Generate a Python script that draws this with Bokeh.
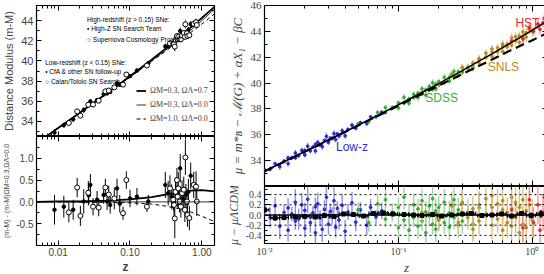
import numpy as np
from bokeh.plotting import figure
from bokeh.layouts import row, column
from bokeh.models import (Range1d, LogAxis, LinearAxis, FixedTicker, Label, Legend,
                          LegendItem, Span, PrintfTickFormatter, CustomJSTickFormatter)
from bokeh.embed import file_html
from bokeh.resources import INLINE

SANS = "Liberation Sans"
SERIF = "Liberation Serif"

# ======================= LEFT PANEL DATA =======================
# filled markers: CfA & other follow-up (low z) + High-Z SN Search Team (high z)
fill_z = [0.0089, 0.012, 0.0162, 0.0227, 0.0267, 0.0281, 0.0348, 0.043, 0.048, 0.053, 0.066,
          0.072, 0.10, 0.125, 0.18, 0.31, 0.34, 0.38, 0.50, 0.55, 0.60, 0.65, 0.70]
fill_mu = [32.89, 33.62, 34.20, 35.13, 35.63, 35.98, 36.11, 36.69, 36.78, 36.92, 37.79,
           37.63, 38.49, 39.04, 39.77, 41.44, 41.49, 41.69, 42.97, 42.51, 42.82, 43.08, 43.65]
fill_res = [-0.18, -0.11, -0.18, 0.01, 0.15, 0.39, 0.05, 0.16, 0.01, -0.07, 0.31,
            -0.04, 0.08, 0.12, 0.01, 0.39, 0.20, 0.12, 0.77, 0.08, 0.16, 0.23, 0.60]
fill_err = [0.34, 0.25, 0.23, 0.28, 0.23, 0.25, 0.20, 0.20, 0.20, 0.20, 0.22,
            0.20, 0.20, 0.20, 0.15, 0.30, 0.28, 0.28, 0.33, 0.25, 0.25, 0.30, 0.30]
# open markers: Calan/Tololo (low z) + Supernova Cosmology Project (high z)
open_z = [0.0141, 0.0184, 0.0204, 0.0263, 0.0306, 0.0367, 0.0454, 0.0506, 0.0605, 0.08, 0.089,
          0.172, 0.36, 0.40, 0.41, 0.42, 0.43, 0.45, 0.46, 0.47, 0.49, 0.51, 0.53, 0.56, 0.58,
          0.59, 0.62, 0.63, 0.67, 0.77, 0.83, 0.85]
open_mu = [33.84, 34.99, 34.57, 35.65, 35.67, 36.05, 36.98, 37.06, 37.37, 37.65, 38.65,
           39.54, 41.74, 41.73, 41.67, 41.42, 42.09, 42.46, 42.13, 42.37, 42.17, 42.14, 42.54,
           42.76, 42.39, 43.63, 42.75, 42.47, 42.55, 43.68, 43.84, 43.56]
open_res = [-0.24, 0.33, -0.32, 0.21, -0.11, -0.13, 0.33, 0.17, 0.08, -0.26, 0.50,
            -0.11, 0.31, 0.05, -0.07, -0.38, 0.23, 0.50, 0.12, 0.31, 0.01, -0.11, 0.20,
            0.28, -0.18, 1.02, 0.01, -0.30, -0.37, 0.39, 0.35, 0.01]
open_err = [0.23, 0.22, 0.23, 0.27, 0.20, 0.20, 0.20, 0.20, 0.25, 0.15, 0.20,
            0.12, 0.30, 0.25, 0.28, 0.45, 0.33, 0.28, 0.25, 0.38, 0.25, 0.25, 0.30,
            0.30, 0.28, 0.40, 0.30, 0.27, 0.28, 0.30, 0.35, 0.33]
# model curves
lmod_z = [0.005, 0.01, 0.02, 0.05, 0.1, 0.2, 0.3, 0.5, 0.7, 1.0, 1.5]
lmod_lcdm = [31.82, 33.34, 34.86, 36.90, 38.48, 40.12, 41.12, 42.42, 43.31, 44.26, 45.37]
lmod_open = [31.82, 33.33, 34.85, 36.87, 38.42, 40.01, 40.96, 42.20, 43.05, 43.99, 45.13]
lmod_eds = [31.82, 33.33, 34.85, 36.86, 38.40, 39.96, 40.87, 42.04, 42.82, 43.66, 44.68]
lmod_lcdm_res = [0.0, 0.01, 0.01, 0.03, 0.06, 0.11, 0.16, 0.22, 0.26, 0.27, 0.24]
lmod_eds_res = [0.0, 0.0, -0.005, -0.01, -0.02, -0.05, -0.09, -0.16, -0.23, -0.33, -0.45]
left_model_labels = ["\u03a9M=0.3, \u03a9\u039b=0.7", "\u03a9M=0.3, \u03a9\u039b=0.0",
                     "\u03a9M=1.0, \u03a9\u039b=0.0"]

# ======================= RIGHT PANEL DATA =======================
blue_z = [0.010, 0.011, 0.012, 0.013, 0.014, 0.015, 0.015, 0.016, 0.017, 0.017, 0.018, 0.019,
          0.020, 0.020, 0.021, 0.022, 0.023, 0.024, 0.024, 0.025, 0.026, 0.027, 0.028, 0.029,
          0.030, 0.031, 0.032, 0.033, 0.034, 0.035, 0.036, 0.038, 0.040, 0.042, 0.045, 0.048,
          0.052, 0.058, 0.062, 0.068, 0.075]
blue_mu = [33.30, 33.34, 33.76, 33.53, 33.96, 33.77, 34.21, 34.23, 34.59, 34.22, 34.39, 34.79,
           34.44, 34.79, 35.12, 34.76, 35.05, 34.75, 35.26, 35.41, 35.22, 35.08, 35.55, 35.87,
           35.42, 35.74, 35.72, 36.09, 35.63, 36.07, 35.90, 36.31, 35.92, 36.41, 36.74, 36.51,
           36.93, 36.87, 37.38, 37.40, 37.74]
blue_res = [0.12, -0.05, 0.18, -0.22, 0.05, -0.30, 0.14, 0.02, 0.25, -0.12, -0.08, 0.20,
            -0.26, 0.09, 0.31, -0.15, 0.04, -0.35, 0.16, 0.22, -0.06, -0.28, 0.11, 0.35,
            -0.18, 0.07, -0.02, 0.28, -0.24, 0.13, -0.10, 0.19, -0.32, 0.06, 0.24, -0.14,
            0.10, -0.20, 0.15, -0.04, 0.08]
blue_err = [0.15, 0.20, 0.18, 0.25, 0.16, 0.22, 0.19, 0.14, 0.26, 0.17, 0.21, 0.23,
            0.18, 0.15, 0.27, 0.20, 0.13, 0.24, 0.19, 0.22, 0.16, 0.25, 0.18, 0.28,
            0.21, 0.15, 0.17, 0.26, 0.20, 0.14, 0.19, 0.23, 0.22, 0.16, 0.21, 0.18,
            0.15, 0.20, 0.17, 0.14, 0.16]
green_z = [0.05, 0.06, 0.07, 0.08, 0.08, 0.09, 0.10, 0.10, 0.11, 0.11, 0.12, 0.12, 0.13, 0.13,
           0.14, 0.14, 0.15, 0.15, 0.16, 0.16, 0.17, 0.17, 0.18, 0.18, 0.19, 0.19, 0.20, 0.20,
           0.22, 0.22, 0.24, 0.24, 0.25, 0.26, 0.26, 0.28, 0.28, 0.30, 0.30, 0.33, 0.36, 0.40]
green_mu = [36.84, 37.00, 37.72, 37.72, 38.10, 38.12, 38.07, 38.47, 38.89, 38.44, 38.76, 38.44,
            39.13, 38.88, 39.22, 38.88, 39.55, 39.15, 39.48, 39.07, 39.75, 39.55, 40.02, 39.52,
            39.91, 39.55, 40.11, 39.88, 40.44, 40.04, 40.44, 40.16, 40.70, 40.55, 40.90, 40.58,
            40.88, 41.18, 40.84, 41.24, 41.24, 41.82]
green_res = [0.10, -0.15, 0.22, -0.08, 0.30, 0.05, -0.25, 0.15, 0.35, -0.10, 0.02, -0.30,
             0.20, -0.05, 0.12, -0.22, 0.28, -0.12, 0.06, -0.35, 0.18, -0.02, 0.32, -0.18,
             0.08, -0.28, 0.15, -0.08, 0.25, -0.15, 0.04, -0.24, 0.20, -0.05, 0.30, -0.20,
             0.10, 0.22, -0.12, 0.05, -0.18, 0.14]
green_err = [0.15, 0.18, 0.20, 0.16, 0.22, 0.18, 0.21, 0.19, 0.24, 0.17, 0.20, 0.23,
             0.22, 0.18, 0.20, 0.25, 0.24, 0.19, 0.21, 0.26, 0.22, 0.20, 0.27, 0.21,
             0.23, 0.25, 0.22, 0.20, 0.26, 0.22, 0.24, 0.25, 0.26, 0.23, 0.28, 0.25,
             0.24, 0.27, 0.25, 0.26, 0.28, 0.30]
gold_z = [0.15, 0.20, 0.25, 0.28, 0.30, 0.33, 0.36, 0.36, 0.40, 0.40, 0.45, 0.45, 0.50, 0.50,
          0.50, 0.55, 0.55, 0.60, 0.60, 0.60, 0.65, 0.65, 0.70, 0.70, 0.70, 0.75, 0.75, 0.80,
          0.80, 0.85, 0.85, 0.90, 0.90, 0.95, 1.00]
gold_mu = [39.32, 39.86, 40.68, 40.63, 41.21, 41.14, 41.54, 41.14, 41.90, 41.58, 42.31, 42.01,
           42.06, 42.41, 42.64, 42.43, 42.73, 42.44, 42.84, 43.02, 42.80, 43.00, 43.50, 42.93,
           43.27, 43.28, 43.58, 43.15, 43.65, 43.96, 43.48, 43.89, 43.56, 44.16, 44.00]
gold_res = [0.05, -0.10, 0.18, -0.15, 0.25, -0.05, 0.12, -0.28, 0.20, -0.12, 0.32, 0.02,
            -0.20, 0.15, 0.38, -0.08, 0.22, -0.30, 0.10, 0.28, -0.15, 0.05, 0.35, -0.22,
            0.12, -0.05, 0.25, -0.35, 0.15, 0.30, -0.18, 0.08, -0.25, 0.20, -0.10]
gold_err = [0.20, 0.22, 0.24, 0.22, 0.25, 0.24, 0.26, 0.25, 0.27, 0.26, 0.28, 0.26,
            0.28, 0.27, 0.30, 0.28, 0.29, 0.30, 0.28, 0.31, 0.30, 0.29, 0.33, 0.31,
            0.30, 0.32, 0.34, 0.35, 0.33, 0.36, 0.34, 0.36, 0.38, 0.38, 0.40]
red_z = [0.70, 0.85, 0.95, 1.02, 1.10, 1.14, 1.20, 1.23, 1.30]
red_mu = [43.25, 43.41, 44.26, 44.00, 44.56, 44.16, 44.65, 45.02, 44.72]
red_res = [0.10, -0.25, 0.30, -0.15, 0.20, -0.30, 0.05, 0.35, -0.10]
red_err = [0.30, 0.32, 0.35, 0.30, 0.38, 0.40, 0.35, 0.42, 0.45]
# binned residuals
bin_z = [0.010, 0.012, 0.014, 0.017, 0.020, 0.024, 0.028, 0.033, 0.039, 0.046, 0.055, 0.065,
         0.077, 0.091, 0.11, 0.13, 0.15, 0.18, 0.21, 0.25, 0.30, 0.35, 0.42, 0.50, 0.59, 0.70,
         0.83, 0.98, 1.16]
bin_res = [0.10, -0.06, -0.05, -0.04, -0.03, -0.04, -0.01, -0.03, 0.02, 0.01, -0.02, 0.03,
           0.04, 0.02, 0.01, 0.00, -0.01, 0.01, -0.02, 0.00, 0.02, 0.03, -0.01, 0.00, 0.02,
           -0.02, 0.03, -0.01, 0.02]
bin_err = [0.07, 0.05, 0.04, 0.04, 0.04, 0.03, 0.03, 0.03, 0.03, 0.04, 0.04, 0.04, 0.04, 0.03,
           0.03, 0.03, 0.03, 0.03, 0.03, 0.03, 0.03, 0.03, 0.03, 0.03, 0.04, 0.04, 0.05, 0.06,
           0.08]
# model curves
rmod_z = [0.01, 0.02, 0.03, 0.05, 0.07, 0.1, 0.15, 0.2, 0.3, 0.4, 0.5, 0.6, 0.7, 0.8, 0.9,
          1.0, 1.1, 1.2, 1.31]
rmod_lcdm = [33.18, 34.70, 35.60, 36.74, 37.50, 38.32, 39.27, 39.96, 40.96, 41.70, 42.26,
             42.74, 43.15, 43.50, 43.81, 44.10, 44.36, 44.60, 44.84]
rdash_z = [0.01, 0.03, 0.1, 0.2, 0.3, 0.5, 0.7, 1.0, 1.3]
rdash_mu = [33.17, 35.57, 38.26, 39.80, 40.70, 41.82, 42.57, 43.32, 43.88]
sample_names = ["Low-z", "SDSS", "SNLS", "HST"]
sample_label_z = [0.045, 0.21, 0.608, 0.918]
sample_label_mu = [35.08, 38.82, 41.27, 44.63]
sample_colors = ["#2b2bd8", "#36ad36", "#b98a1e", "#e8282b"]
bar_colors = ["#7a7ae6", "#8ccf8c", "#dcb66c", "#f08a8a"]


def minor_log(e0, e1):
    return [m * 10.0 ** e for e in range(e0, e1 + 1) for m in range(2, 10)]


def make_fig(fw, fh, xr, yr, bl, br, bt, bb):
    p = figure(frame_width=fw, frame_height=fh, x_axis_type="log",
               x_range=Range1d(*xr), y_range=Range1d(*yr), title=None,
               output_backend="svg", toolbar_location=None,
               min_border_left=bl, min_border_right=br, min_border_top=bt, min_border_bottom=bb)
    p.grid.visible = False
    p.outline_line_color = "black"
    p.outline_line_width = 1.2
    return p


blank = CustomJSTickFormatter(code="return ''")


def style_axes(p, xticker, yticker, xfmt, yfmt, font, xsize, ysize, xlabels, tick_in=5):
    below = p.below[0]
    left = p.left[0]
    above = LogAxis()
    right = LinearAxis()
    p.add_layout(above, "above")
    p.add_layout(right, "right")
    for ax, tk in ((below, xticker), (above, xticker), (left, yticker), (right, yticker)):
        ax.ticker = tk
        ax.axis_line_color = None
        ax.major_tick_out = 0
        ax.major_tick_in = tick_in
        ax.minor_tick_out = 0
        ax.minor_tick_in = 3
        ax.major_tick_line_width = 1
        ax.major_label_text_font = font
        ax.major_label_standoff = 3
    for ax in (above, right):
        ax.formatter = blank
        ax.major_label_text_font_size = "0px"
        ax.major_label_standoff = 0
    left.formatter = yfmt
    left.major_label_text_font_size = ysize
    if xlabels:
        below.formatter = xfmt
        below.major_label_text_font_size = xsize
        below.major_label_standoff = 2
    else:
        below.formatter = blank
        below.major_label_text_font_size = "0px"
        below.major_label_standoff = 0
    return below, left


def err_segments(p, x, y, e, color, alpha, width):
    y = np.asarray(y)
    e = np.asarray(e)
    p.segment(x0=x, y0=y - e, x1=x, y1=y + e, line_color=color, line_alpha=alpha,
              line_width=width)


# ======================= LEFT TOP =======================
lx_range = (0.005, 1.5)
lx_ticker = FixedTicker(ticks=[0.01, 0.1, 1.0], minor_ticks=minor_log(-3, 0))
lt = make_fig(178, 131, lx_range, (32.5, 45.5), 36, 9, 5, 0)
b, l = style_axes(lt, lx_ticker, FixedTicker(ticks=[34, 36, 38, 40, 42, 44],
                                             minor_ticks=[33, 35, 37, 39, 41, 43, 45]),
                  None, PrintfTickFormatter(format="%d"), SANS, "10px", "11px", False)
l.axis_label = "Distance Modulus (m-M)"
l.axis_label_text_font = SANS
l.axis_label_text_font_style = "normal"
l.axis_label_text_font_size = "11px"
l.axis_label_standoff = 3

err_segments(lt, fill_z, fill_mu, fill_err, "black", 1, 1)
err_segments(lt, open_z, open_mu, open_err, "black", 1, 1)
r_l = lt.line(lmod_z, lmod_lcdm, line_color="black", line_width=1.8)
r_o = lt.line(lmod_z, lmod_open, line_color="black", line_width=0.8)
r_e = lt.line(lmod_z, lmod_eds, line_color="black", line_width=1, line_dash="4 3")
lt.scatter(fill_z, fill_mu, size=3.5, color="black")
lt.scatter(open_z, open_mu, size=5, fill_color="white", line_color="black", line_width=1)

legend = Legend(items=[LegendItem(label=t, renderers=[r]) for t, r in
                       zip(left_model_labels, [r_l, r_o, r_e])],
                location=(100, 12), glyph_width=10, glyph_height=11, label_height=11,
                label_standoff=4, spacing=3, padding=0, margin=0,
                label_text_font=SERIF, label_text_font_size="8px",
                border_line_alpha=0, background_fill_alpha=0)
lt.add_layout(legend)

legend_texts = [("High-redshift (z > 0.15) SNe:", 0.0253, 44.07),
                ("\u2022 High-Z SN Search Team", 0.0253, 43.17),
                ("\u25cb Supernova Cosmology Project", 0.0253, 42.14),
                ("Low-redshift (z < 0.15) SNe:", 0.0066, 39.81),
                ("\u2022 CfA & other SN follow-up", 0.0066, 38.92),
                ("\u25cb Calan/Tololo SN Search", 0.0066, 37.93)]
for t, xx, yy in legend_texts:
    lt.add_layout(Label(x=xx, y=yy, text=t, text_font=SANS, text_font_size="6.5px",
                        text_baseline="middle", text_align="left", text_color="black"))

# ======================= LEFT BOTTOM =======================
lb = make_fig(178, 109, lx_range, (-1.0, 1.5), 36, 9, 0, 29)
b, l = style_axes(lb, lx_ticker, FixedTicker(ticks=[-0.5, 0.0, 0.5, 1.0],
                                             minor_ticks=[-1.0, -0.75, -0.25, 0.25, 0.75, 1.25, 1.5]),
                  PrintfTickFormatter(format="%.2f"), PrintfTickFormatter(format="%.1f"),
                  SANS, "10px", "10px", True)
l.axis_label = "(m-M) - (m-M)\u03a9M=0.3,\u03a9\u039b=0.0"
l.axis_label_text_font = SANS
l.axis_label_text_font_style = "normal"
l.axis_label_text_font_size = "7px"
l.axis_label_standoff = 3
b.axis_label = "z"
b.axis_label_text_font = SANS
b.axis_label_text_font_style = "bold"
b.axis_label_text_font_size = "12px"
b.axis_label_standoff = 1

lb.add_layout(Span(location=0, dimension="width", line_color="black", line_width=0.8))
err_segments(lb, fill_z, fill_res, fill_err, "black", 1, 1)
err_segments(lb, open_z, open_res, open_err, "black", 1, 1)
lb.line(lmod_z, lmod_lcdm_res, line_color="black", line_width=1.8)
lb.line(lmod_z, lmod_eds_res, line_color="black", line_width=1, line_dash="4 3")
lb.scatter(fill_z, fill_res, size=3.5, color="black")
lb.scatter(open_z, open_res, size=5, fill_color="white", line_color="black", line_width=1)

# ======================= RIGHT TOP =======================
rx_range = (0.01, 1.32)
rx_ticker = FixedTicker(ticks=[0.01, 0.1, 1.0], minor_ticks=minor_log(-2, 0))
pow_fmt = CustomJSTickFormatter(code="""
const e = Math.round(Math.log10(tick));
const sup = {'-': '\u207b', '0': '\u2070', '1': '\u00b9', '2': '\u00b2', '3': '\u00b3'};
return '10' + String(e).split('').map(c => sup[c]).join('');
""")
rt = make_fig(284, 181, rx_range, (32.0, 46.0), 36, 1, 5, 0)
b, l = style_axes(rt, rx_ticker, FixedTicker(ticks=[34, 36, 38, 40, 42, 44, 46],
                                             minor_ticks=[33, 35, 37, 39, 41, 43, 45]),
                  None, PrintfTickFormatter(format="%d"), SERIF, "11px", "11px", False, tick_in=6)
l.axis_label = "\u03bc = m*\u0299 \u2212 \u2133(G) + \u03b1X\u2081 \u2212 \u03b2C"
l.axis_label_text_font = SERIF
l.axis_label_text_font_style = "italic"
l.axis_label_text_font_size = "13px"
l.axis_label_standoff = 3

groups = [(blue_z, blue_mu, blue_res, blue_err), (green_z, green_mu, green_res, green_err),
          (gold_z, gold_mu, gold_res, gold_err), (red_z, red_mu, red_res, red_err)]
for (gz, gm, gr, ge), col, bcol in zip(groups, sample_colors, bar_colors):
    err_segments(rt, gz, gm, ge, bcol, 0.85, 1.4)
    rt.scatter(gz, gm, size=2.8, color=col)
rt.line(rmod_z, rmod_lcdm, line_color="black", line_width=1.6)
rt.line(rdash_z, rdash_mu, line_color="black", line_width=2.2, line_dash="9 5")
for name, xx, yy, col in zip(sample_names, sample_label_z, sample_label_mu, sample_colors):
    rt.add_layout(Label(x=xx, y=yy, text=name, text_font=SANS, text_font_size="12px",
                        text_align="center", text_baseline="middle", text_color=col))

# ======================= RIGHT BOTTOM =======================
rb = make_fig(284, 57, rx_range, (-0.56, 0.56), 36, 1, 0, 29)
b, l = style_axes(rb, rx_ticker, FixedTicker(ticks=[-0.4, -0.2, 0.0, 0.2, 0.4],
                                             minor_ticks=[-0.5, -0.3, -0.1, 0.1, 0.3, 0.5]),
                  pow_fmt, PrintfTickFormatter(format="%.1f"), SERIF, "10px", "10px", True, tick_in=6)
l.axis_label = "\u03bc \u2212 \u03bc\u039bCDM"
l.axis_label_text_font = SERIF
l.axis_label_text_font_style = "italic"
l.axis_label_text_font_size = "12px"
l.axis_label_standoff = 2
b.axis_label = "z"
b.axis_label_text_font = SERIF
b.axis_label_text_font_style = "italic"
b.axis_label_text_font_size = "13px"
b.axis_label_standoff = 0

for loc in (-0.4, -0.2, 0.2, 0.4):
    rb.add_layout(Span(location=loc, dimension="width", line_color="black",
                       line_width=1, line_dash="2 3"))
for (gz, gm, gr, ge), col, bcol in zip(groups, sample_colors, bar_colors):
    err_segments(rb, gz, gr, ge, bcol, 0.85, 1.4)
    rb.scatter(gz, gr, size=2.8, color=col)
rb.add_layout(Span(location=0, dimension="width", line_color="black", line_width=1.6))
bz = np.asarray(bin_z)
br_ = np.asarray(bin_res)
be = np.asarray(bin_err)
rb.segment(x0=bz / 1.08, y0=br_, x1=bz * 1.08, y1=br_, line_color="black", line_width=1.5)
rb.segment(x0=bz / 1.08, y0=br_ - 0.04, x1=bz / 1.08, y1=br_ + 0.04, line_color="black", line_width=1)
rb.segment(x0=bz * 1.08, y0=br_ - 0.04, x1=bz * 1.08, y1=br_ + 0.04, line_color="black", line_width=1)
rb.segment(x0=bz, y0=br_ - be, x1=bz, y1=br_ + be, line_color="black", line_width=1.5)
rb.scatter(bz, br_, marker="square", size=4, color="black")

layout = row(column(lt, lb), column(rt, rb))

with open("out.html", "w") as f:
    f.write(file_html(layout, INLINE))
